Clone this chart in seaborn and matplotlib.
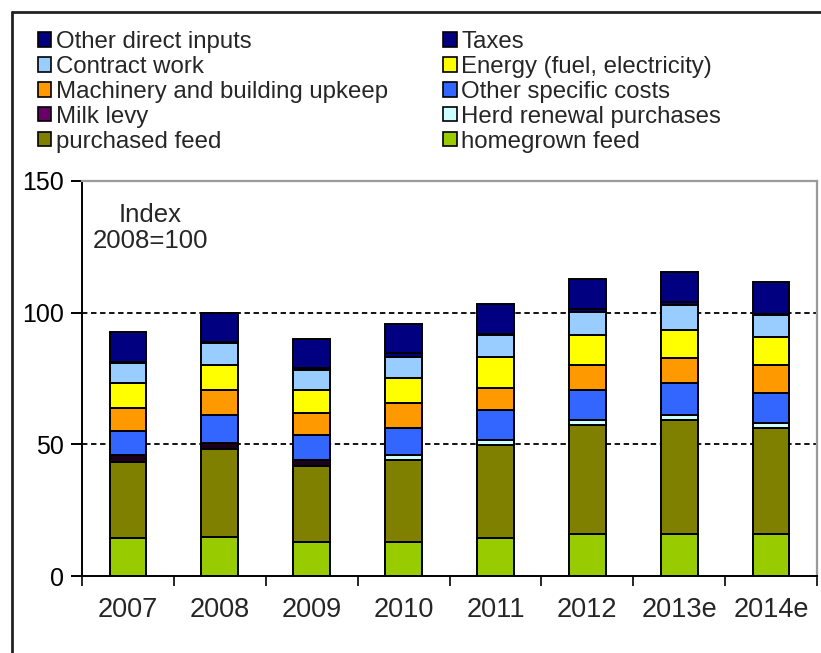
import matplotlib
matplotlib.use("Agg")
import matplotlib.pyplot as plt
from matplotlib.lines import Line2D
from matplotlib.patches import Patch
import seaborn as sns
import numpy as np

sns.set_style("white")
plt.rcParams['font.family'] = ['Liberation Sans', 'DejaVu Sans']

years = ["2007", "2008", "2009", "2010", "2011", "2012", "2013e", "2014e"]

homegrown_feed = [14.3, 14.9, 13.0, 13.0, 14.3, 16.0, 16.0, 16.0]
purchased_feed = [29.1, 33.3, 28.9, 31.1, 35.5, 41.4, 43.2, 40.3]
herd_renewal = [0.0, 0.0, 0.0, 1.9, 1.9, 1.8, 1.9, 1.9]
milk_levy = [2.6, 2.4, 2.2, 0.0, 0.0, 0.0, 0.0, 0.0]
other_specific = [9.2, 10.5, 9.5, 10.1, 11.3, 11.4, 12.3, 11.4]
machinery = [8.5, 9.5, 8.2, 9.7, 8.5, 9.5, 9.5, 10.5]
energy = [9.7, 9.5, 8.8, 9.5, 11.6, 11.4, 10.5, 10.5]
contract_work = [7.4, 8.5, 7.6, 7.8, 8.4, 8.9, 9.5, 8.5]
taxes = [0.3, 0.3, 0.9, 1.5, 0.3, 0.9, 1.0, 0.3]
other_direct = [11.7, 11.1, 10.8, 11.0, 11.5, 11.4, 11.7, 12.4]

# (name, values, legend colour, bar colour)
series = [
    ("homegrown feed", homegrown_feed, "#99CC00", "#99CC00"),
    ("purchased feed", purchased_feed, "#808000", "#808000"),
    ("Herd renewal purchases", herd_renewal, "#CCFFFF", "#CCFFFF"),
    ("Milk levy", milk_levy, "#660066", "#1a001a"),
    ("Other specific costs", other_specific, "#3366FF", "#3366FF"),
    ("Machinery and building upkeep", machinery, "#FF9900", "#FF9900"),
    ("Energy (fuel, electricity)", energy, "#FFFF00", "#FFFF00"),
    ("Contract work", contract_work, "#99CCFF", "#99CCFF"),
    ("Taxes", taxes, "#000080", "#000080"),
    ("Other direct inputs", other_direct, "#000080", "#000080"),
]

W, H = 821, 653
fig = plt.figure(figsize=(W / 100, H / 100), dpi=100)
ax = fig.add_axes([82 / W, (H - 576) / H, (817 - 82) / W, (576 - 181) / H])

bottom = np.zeros(len(years))
for name, vals, _, col in series:
    sns.barplot(x=years, y=vals, bottom=bottom, color=col, saturation=1,
                width=0.4, edgecolor="black", linewidth=1.4, ax=ax)
    bottom = bottom + np.array(vals)

ax.set_xlim(-0.5, len(years) - 0.5)
ax.set_ylim(0, 150)
ax.set_yticks([0, 50, 100, 150])
ax.tick_params(axis="y", direction="out", length=8, width=1.4, labelsize=18, pad=5, left=True, colors="black")
ax.set_xticks(range(len(years)))
ax.set_xticklabels(years)
ax.tick_params(axis="x", which="major", length=0, labelsize=19.5, pad=15)
ax.set_xticks(np.arange(-0.5, len(years), 1.0), minor=True)
ax.tick_params(axis="x", which="minor", direction="out", length=7, width=1.4, bottom=True)

for y in (50, 100):
    ax.axhline(y, color="black", linestyle=(0, (3, 2)), linewidth=1.3, zorder=0.5)

for s in ("left", "bottom"):
    ax.spines[s].set_color("black")
    ax.spines[s].set_linewidth(1.4)
for s in ("top", "right"):
    ax.spines[s].set_color("#9a9a9a")
    ax.spines[s].set_linewidth(1.6)

fig.text(150 / W, 1 - 228 / H, "Index\n2008=100", fontsize=18.5, ha="center", va="center",
         linespacing=1.1)

# legend
order = ["Other direct inputs", "Contract work", "Machinery and building upkeep", "Milk levy", "purchased feed",
         "Taxes", "Energy (fuel, electricity)", "Other specific costs", "Herd renewal purchases", "homegrown feed"]
cmap = {n: c for n, _, c, _ in series}
handles = [Patch(facecolor=cmap[n], edgecolor="black", linewidth=1.2, label=n) for n in order]
fig.legend(handles=handles, ncol=2, loc="upper left", bbox_to_anchor=(38 / W, 1 - 31 / H),
           frameon=False, fontsize=17.3, handlelength=0.55, handleheight=0.55, handletextpad=0.2,
           labelspacing=0.12, columnspacing=2.3, borderaxespad=0, borderpad=0)

# outer frame
fig.add_artist(Line2D([12 / W, 12 / W], [0, 1 - 12 / H], color="#222222", linewidth=2))
fig.add_artist(Line2D([12 / W, 1], [1 - 12 / H, 1 - 12 / H], color="#222222", linewidth=2))

fig.savefig("out.png", dpi=100)
